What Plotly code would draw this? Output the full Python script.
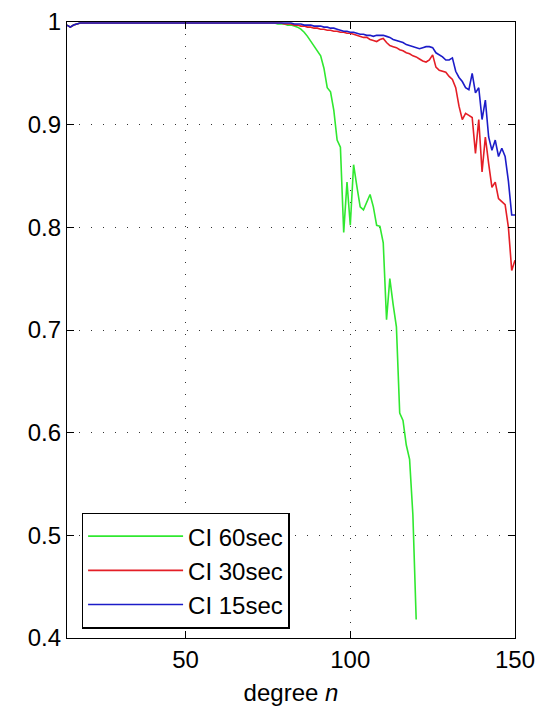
import plotly.graph_objects as go

# ---- data ----
deg_60 = [14, 15, 16, 17, 18, 76, 77, 78, 79, 80, 81, 82, 83, 84, 85, 86, 87, 88, 89, 90,
          91, 92, 93, 94, 95, 96, 97, 98, 99, 100, 101, 102, 103, 104, 105, 106, 107, 108,
          109, 110, 111, 112, 113, 114, 115, 116, 117, 118, 119, 120]
ci_60 = [0.997, 0.995, 0.997, 0.998, 0.999, 0.999, 0.999, 0.998, 0.998, 0.998, 0.997, 0.997,
         0.996, 0.995, 0.993, 0.990, 0.986, 0.981, 0.976, 0.971, 0.967, 0.955, 0.936, 0.932,
         0.914, 0.885, 0.878, 0.795, 0.844, 0.802, 0.861, 0.840, 0.820, 0.817, 0.825, 0.832,
         0.820, 0.802, 0.801, 0.785, 0.710, 0.750, 0.725, 0.703, 0.619, 0.612, 0.588, 0.574,
         0.520, 0.418]

deg_30 = [14, 15, 16, 17, 18, 79] + list(range(80, 151))
ci_30 = [0.997, 0.995, 0.997, 0.998, 0.999, 0.999,
         0.998, 0.998, 0.998, 0.997, 0.997, 0.996, 0.996, 0.995, 0.995, 0.994,
         0.994, 0.993, 0.993, 0.992, 0.992, 0.991, 0.991, 0.990, 0.990, 0.989,
         0.989, 0.988, 0.987, 0.986, 0.985, 0.985, 0.983, 0.982, 0.981, 0.983,
         0.984, 0.980, 0.977, 0.976, 0.975, 0.973, 0.972, 0.970, 0.969, 0.967,
         0.966, 0.964, 0.962, 0.961, 0.963, 0.968, 0.956, 0.953, 0.952, 0.951,
         0.947, 0.944, 0.936, 0.918, 0.905, 0.911, 0.909, 0.907, 0.872, 0.905,
         0.854, 0.888, 0.862, 0.839, 0.844, 0.828, 0.825, 0.822, 0.800, 0.758,
         0.768]

deg_15 = [14, 15, 16, 17, 18, 79] + list(range(80, 151))
ci_15 = [0.997, 0.995, 0.997, 0.998, 0.999, 0.999,
         0.999, 0.999, 0.999, 0.998, 0.998, 0.998, 0.997, 0.997, 0.997, 0.996,
         0.996, 0.996, 0.995, 0.995, 0.994, 0.994, 0.993, 0.992, 0.991, 0.991,
         0.990, 0.990, 0.989, 0.988, 0.988, 0.987, 0.987, 0.986, 0.987, 0.987,
         0.987, 0.986, 0.985, 0.983, 0.982, 0.981, 0.980, 0.978, 0.977, 0.976,
         0.975, 0.974, 0.975, 0.976, 0.976, 0.975, 0.970, 0.968, 0.966, 0.963,
         0.963, 0.965, 0.952, 0.946, 0.942, 0.936, 0.934, 0.950, 0.931, 0.936,
         0.905, 0.924, 0.888, 0.875, 0.885, 0.869, 0.877, 0.869, 0.845, 0.812,
         0.812]

x_ticks = [50, 100, 150]
y_ticks = [0.4, 0.5, 0.6, 0.7, 0.8, 0.9, 1.0]
y_tick_labels = ["0.4", "0.5", "0.6", "0.7", "0.8", "0.9", "1"]

FONT = "Liberation Sans, Arial, Helvetica, sans-serif"

fig = go.Figure()
fig.add_trace(go.Scatter(x=deg_60, y=ci_60, mode="lines", name="CI 60sec",
                         line=dict(color="#30e830", width=1.6)))
fig.add_trace(go.Scatter(x=deg_30, y=ci_30, mode="lines", name="CI 30sec",
                         line=dict(color="#e41e26", width=1.6)))
fig.add_trace(go.Scatter(x=deg_15, y=ci_15, mode="lines", name="CI 15sec",
                         line=dict(color="#1c1cc8", width=1.6)))

axis_common = dict(
    showline=True, linecolor="black", linewidth=1.3, mirror="ticks",
    ticks="inside", ticklen=7, tickwidth=1.3, tickcolor="black",
    showgrid=True, gridcolor="#333333", gridwidth=1.2, griddash="1px,11px",
    zeroline=False, automargin=False,
    tickfont=dict(family=FONT, size=24, color="black"),
)

fig.update_xaxes(range=[14, 150], tickvals=x_ticks, ticktext=[str(v) for v in x_ticks],
                 title=dict(text="degree <i>n</i>", font=dict(family=FONT, size=24, color="black"),
                            standoff=12),
                 **axis_common)
fig.update_yaxes(range=[0.4, 1.0], tickvals=y_ticks, ticktext=y_tick_labels, **axis_common)

fig.update_layout(
    width=540, height=709,
    margin=dict(l=67, r=25, t=22, b=71),
    paper_bgcolor="white", plot_bgcolor="white",
    font=dict(family=FONT, size=24, color="black"),
    showlegend=True,
    legend=dict(x=0.033, y=0.015, xanchor="left", yanchor="bottom",
                bgcolor="white", bordercolor="black", borderwidth=1.3,
                font=dict(family=FONT, size=24, color="black"),
                itemwidth=95, tracegroupgap=0),
)

fig.write_html("out.html")
